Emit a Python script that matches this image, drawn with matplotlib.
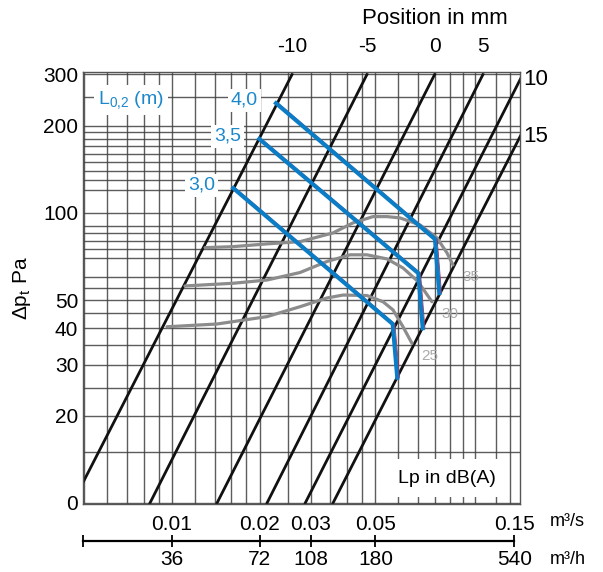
import numpy as np
import matplotlib.pyplot as plt
import matplotlib.transforms as mtransforms
from matplotlib.ticker import NullLocator, NullFormatter

plt.rcParams['font.family'] = ['Liberation Sans', 'DejaVu Sans']
plt.rcParams['mathtext.fontset'] = 'custom'
plt.rcParams['mathtext.rm'] = 'Liberation Sans'
plt.rcParams['mathtext.it'] = 'Liberation Sans:italic'

# damper position lines (mm): flow in m3/s where each line is at 10 Pa and at 300 Pa
pos_mm = [-10, -5, 0, 5, 10, 15]
q_at_10pa = [0.00455, 0.0084, 0.01428, 0.02121, 0.0287, 0.03575]
q_at_300pa = [0.02585, 0.04677, 0.0799, 0.1171, 0.1604, 0.2019]

# throw L0,2 lines (m): start, knee, end
throw_m = ['3,0', '3,5', '4,0']
throw_q = [[0.01624, 0.05734, 0.05945],
           [0.01995, 0.07022, 0.07269],
           [0.02277, 0.08012, 0.08290]]
throw_dp = [[121.7, 41.4, 27.05],
            [179.9, 61.96, 40.04],
            [238.9, 81.2, 52.9]]

# sound level curves Lp dB(A)
lp_db = ['25', '30', '35']
lp_q = [[0.00961, 0.01428, 0.02121, 0.02754, 0.03409, 0.03869, 0.04677, 0.05310, 0.05749, 0.06220, 0.06679],
        [0.01108, 0.01621, 0.02121, 0.02754, 0.03409, 0.04090, 0.04677, 0.05481, 0.06220, 0.07005, 0.07403, 0.07823],
        [0.01299, 0.01621, 0.02121, 0.02754, 0.03575, 0.04188, 0.04906, 0.05481, 0.06074, 0.07116, 0.08139, 0.08810, 0.09238]]
lp_dp = [[40.5, 41.4, 43.9, 47.5, 50.9, 52.1, 51.9, 49.4, 46.3, 40.5, 35.5],
         [56.0, 57.2, 58.7, 62.3, 68.0, 71.7, 71.7, 69.4, 64.6, 58.0, 53.5, 49.4],
         [75.9, 76.5, 78.2, 79.6, 85.3, 92.4, 97.1, 97.1, 96.1, 90.9, 82.0, 72.8, 66.2]]

# axis ticks
q_ticks = [0.01, 0.02, 0.03, 0.05, 0.15]
q_labels = ['0.01', '0.02', '0.03', '0.05', '0.15']
qh_ticks = [36, 72, 108, 180, 540]
dp_ticks = [10, 20, 30, 40, 50, 100, 200, 300]
dp_labels = ['0', '20', '30', '40', '50', '100', '200', '300']

# background grid of the nomogram
grid_q = [0.005, 0.006, 0.007, 0.008, 0.009, 0.01, 0.012, 0.014, 0.016, 0.018, 0.02,
          0.025, 0.03, 0.035, 0.04, 0.045, 0.05, 0.06, 0.07, 0.08, 0.09, 0.1,
          0.11, 0.13, 0.145]
grid_dp = [10, 15, 20, 25, 30, 35, 40, 45, 50, 55, 60, 70, 75, 80, 85, 90, 100,
           120, 130, 140, 150, 160, 170, 180, 190, 200, 250, 300]

blue = '#0b7dc6'
blue_txt = '#1b88cc'

fig = plt.figure(figsize=(6.03, 5.72), dpi=100)
ax = fig.add_axes([83/603, 1-504/572, 437/603, 432/572])
ax.set_xscale('log')
ax.set_yscale('log')
ax.set_xlim(0.004944, 0.157)
ax.set_ylim(9.92, 306)

for g in grid_q:
    ax.axvline(g, color='#404040', lw=1.0, alpha=0.85, zorder=1)
for g in grid_dp:
    ax.axhline(g, color='#404040', lw=1.0, alpha=0.85, zorder=1)

xmax = ax.get_xlim()[1]
top = mtransforms.blended_transform_factory(ax.transData, ax.transAxes)
for p, q1, q2 in zip(pos_mm, q_at_10pa, q_at_300pa):
    ax.plot([q1, q2], [10, 300], color='#111111', lw=2.0, zorder=2)
    if q2 <= xmax:
        ax.text(q2, 1.058, str(p), transform=top, ha='center', va='center',
                fontsize=15, clip_on=False)
    else:
        dp_edge = 10 ** np.interp(np.log10(xmax), np.log10([q1, q2]), np.log10([10, 300]))
        ax.annotate(str(p), (xmax, dp_edge), xytext=(2, 0), textcoords='offset points',
                    ha='left', va='center', fontsize=16, annotation_clip=False)

for lab, qs, dps in zip(lp_db, lp_q, lp_dp):
    ax.plot(qs, dps, color='#8c8c8c', lw=2.3, solid_joinstyle='round',
            solid_capstyle='round', zorder=3)
    ax.annotate(lab, (qs[-1], dps[-1]), xytext=(13, -9), textcoords='offset points',
                ha='center', va='center', fontsize=11, color='#aaaaaa', zorder=3)

red_tr = mtransforms.offset_copy(ax.transData, fig=fig, x=2.2, y=0, units='dots')
for lab, qs, dps in zip(throw_m, throw_q, throw_dp):
    ax.plot(qs, dps, color='#e0143c', lw=0.6, transform=red_tr, zorder=4)
    ax.plot(qs, dps, color=blue, lw=3.0, solid_joinstyle='miter', zorder=5)
    ax.annotate(lab, (qs[0], dps[0]), xytext=(-13, 2), textcoords='offset points',
                ha='right', va='center', fontsize=14, color=blue_txt, zorder=6,
                bbox=dict(boxstyle='square,pad=0.15', fc='white', ec='none'))

ax.text(0.11, 0.935, r'L$_{\mathrm{0{,}2}}$ (m)', transform=ax.transAxes,
        ha='center', va='center', fontsize=14, color=blue_txt, zorder=6,
        bbox=dict(boxstyle='square,pad=0.2', fc='white', ec='none'))
ax.text(0.833, 0.06, 'Lp in dB(A)', transform=ax.transAxes, ha='center', va='center',
        fontsize=14, zorder=6,
        bbox=dict(boxstyle='square,pad=0.55', fc='white', ec='none'))

ax.set_xticks(q_ticks)
ax.set_xticklabels(q_labels)
ax.set_yticks(dp_ticks)
ax.set_yticklabels(dp_labels)
ax.xaxis.set_minor_locator(NullLocator())
ax.yaxis.set_minor_locator(NullLocator())
ax.xaxis.set_minor_formatter(NullFormatter())
ax.yaxis.set_minor_formatter(NullFormatter())
ax.tick_params(axis='x', length=0, pad=8, labelsize=15)
ax.tick_params(axis='y', length=0, pad=3.5, labelsize=15)
ax.set_ylabel(r'Δp$_{\mathrm{t}}$ Pa', fontsize=15, labelpad=7)
for s in ax.spines.values():
    s.set_color('#555555')
    s.set_linewidth(1.0)

sec = ax.secondary_xaxis(-0.0856, functions=(lambda q: q * 3600, lambda h: h / 3600))
sec.set_xticks([17.85] + qh_ticks)
sec.set_xticklabels([''] + [str(v) for v in qh_ticks])
sec.xaxis.set_minor_locator(NullLocator())
sec.xaxis.set_minor_formatter(NullFormatter())
sec.tick_params(axis='x', direction='inout', length=8.5, width=1.3, pad=2, labelsize=15)
sec.spines['bottom'].set_linewidth(1.6)
sec.spines['bottom'].set_bounds(17.85, 540)

fig.text(550/603, 1-521/572, 'm³/s', fontsize=13, va='center')
fig.text(550/603, 1-560/572, 'm³/h', fontsize=13, va='center')
fig.text(435/603, 1-18/572, 'Position in mm', fontsize=16, ha='center', va='center')

fig.savefig('out.png', dpi=100)
